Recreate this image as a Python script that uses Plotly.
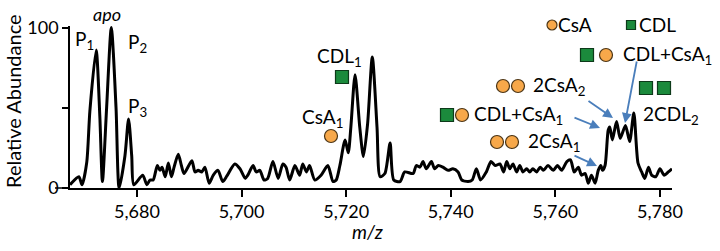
import plotly.graph_objects as go

# ---- data (m/z, relative abundance) ----
mz = [5667.2, 5668.9, 5669.5, 5670.4, 5671.0, 5672.2, 5672.9, 5673.4, 5674.2, 5675.1,
      5676.0, 5676.6, 5677.7, 5678.4, 5679.0, 5679.4,
      5681.1, 5681.9, 5682.5, 5683.1, 5683.9, 5684.4, 5684.8, 5685.4, 5686.0, 5686.6,
      5687.1, 5687.9, 5688.5, 5689.0, 5690.5, 5691.1, 5691.7, 5692.4, 5693.0, 5693.8,
      5694.6, 5695.5, 5696.4, 5697.2, 5698.7, 5699.7, 5700.7, 5701.2, 5702.2, 5702.8,
      5703.5, 5704.3, 5705.0, 5706.0, 5707.0, 5707.9, 5708.5, 5709.2, 5710.2, 5711.1,
      5711.7, 5712.4, 5713.0, 5714.0, 5715.2, 5716.5, 5717.5, 5718.1, 5718.8, 5719.8,
      5720.4, 5720.9, 5721.7, 5722.6, 5723.3, 5724.1, 5725.0, 5725.9, 5726.5, 5727.4,
      5728.4, 5729.1, 5730.3, 5731.2,
      5732.8, 5733.4, 5734.1, 5734.7, 5735.3, 5736.3, 5736.9, 5737.6, 5738.5, 5739.5,
      5740.4, 5741.4, 5742.1, 5743.3, 5744.1, 5744.9, 5745.7, 5746.8, 5747.7, 5748.5,
      5749.4, 5750.1, 5750.7, 5751.3, 5751.9, 5752.6, 5753.2, 5753.8, 5754.5, 5755.1,
      5755.7, 5756.4, 5757.1, 5757.7, 5758.6, 5759.6, 5760.4, 5761.2, 5762.2, 5762.9,
      5763.6, 5764.4, 5765.0, 5765.7, 5766.3, 5766.9, 5767.6, 5768.2, 5768.7, 5769.0,
      5769.5, 5770.1, 5770.4, 5770.9, 5771.7, 5772.4, 5773.4, 5774.2, 5775.0, 5775.8,
      5776.5, 5777.1, 5777.8, 5778.4, 5779.2, 5780.0, 5780.8, 5781.6, 5782.3]
abundance = [2, 7, 2, 16, 48, 86, 45, 4, 50, 100,
             50, 0, 20, 43, 20, 2,
             8, 2, 5, 5, 14, 11, 13, 7, 15.6, 7,
             13, 21, 14, 9, 17, 10, 11, 10, 13, 3,
             8, 11, 4, 7.5, 15, 12, 6, 8, 14, 10,
             11, 5, 6, 16.5, 6, 15, 13, 5, 14, 8,
             15, 10, 14, 5, 8, 14, 4, 5, 14, 30,
             22, 38, 70.6, 38, 19.6, 40, 81.7, 38, 7, 9,
             28, 5, 4, 10,
             9, 14, 13, 16.5, 12, 16.5, 12, 14, 13, 11,
             12, 10, 5, 4, 5, 12, 5, 10, 16.5, 14,
             15, 10, 16.5, 12, 15, 10, 14, 10, 12, 10,
             12, 10, 13, 11, 14, 11, 14, 11, 16.5, 17.5,
             10, 13, 8, 9, 3, 8, 3, 11, 14, 11,
             14, 36, 38, 30, 41.5, 31, 39, 29, 46.7, 15.6,
             10, 6, 13, 8, 7, 12, 8, 10, 12]

x_ticks = [5680, 5700, 5720, 5740, 5760, 5780]
x_ticktext = ["5,680", "5,700", "5,720", "5,740", "5,760", "5,780"]
y_ticks = [0, 50, 100]
y_ticktext = ["0", "", "100"]

# ---- layout geometry (pixels) ----
W, H = 720, 251
ML, MR, MT, MB = 70, 48, 26, 63
PW, PH = W - ML - MR, H - MT - MB
FONT = "Lato"
ORANGE = "#F7A84A"
GREEN = "#1B8A3C"
ARROW = "#4A7EBB"
LBL = 19


def px(x):
    return (x - ML) / PW


def py(y):
    return (H - MB - y) / PH


fig = go.Figure()
fig.add_trace(go.Scatter(x=mz, y=abundance, mode="lines",
                         line=dict(color="black", width=3, shape="spline", smoothing=0.7),
                         hoverinfo="skip", showlegend=False))

shapes = []
annotations = []


def circle(cx, cy, d=13):
    r = d / 2
    shapes.append(dict(type="circle", xref="paper", yref="paper",
                       x0=px(cx - r), x1=px(cx + r), y0=py(cy + r), y1=py(cy - r),
                       fillcolor=ORANGE, line=dict(color="#4a3415", width=1.2)))


def square(cx, cy, d=13):
    r = d / 2
    shapes.append(dict(type="rect", xref="paper", yref="paper",
                       x0=px(cx - r), x1=px(cx + r), y0=py(cy + r), y1=py(cy - r),
                       fillcolor=GREEN, line=dict(color="#0d3a1a", width=1.2)))


def label(text, cx, cy, size=LBL, italic=False, xanchor="center"):
    annotations.append(dict(text=text, xref="paper", yref="paper", x=px(cx), y=py(cy),
                            xanchor=xanchor, yanchor="middle", showarrow=False,
                            font=dict(family=FONT, size=size, color="black",
                                      style="italic" if italic else "normal")))


def arrow(x0, y0, x1, y1):
    annotations.append(dict(text="", xref="paper", yref="paper", x=px(x1), y=py(y1),
                            ax=x0 - x1, ay=y0 - y1, axref="pixel", ayref="pixel",
                            showarrow=True, arrowhead=2, arrowsize=1.1,
                            arrowwidth=1.8, arrowcolor=ARROW))


# x-axis line extends a little left of the y axis
shapes.append(dict(type="line", xref="paper", yref="paper", x0=px(55), x1=0, y0=0, y1=0,
                   line=dict(color="black", width=1.5)))

# peak labels
label("apo", 107, 14, 18, italic=True)
label("P<sub>1</sub>", 84, 40)
label("P<sub>2</sub>", 137, 43)
label("P<sub>3</sub>", 137, 107)
label("CDL<sub>1</sub>", 339, 57)
square(342, 77)
label("CsA<sub>1</sub>", 322, 118)
circle(331, 136)

# legend
circle(552, 25, 10)
label("CsA", 556, 25, xanchor="left")
square(631, 25, 9)
label("CDL", 637, 25, xanchor="left")

# adduct labels
square(587, 55)
circle(606, 55)
label("CDL+CsA<sub>1</sub>", 621, 55, xanchor="left")

square(646, 88)
square(664, 88)
label("2CDL<sub>2</sub>", 641, 115, xanchor="left")

circle(503, 86)
circle(518, 86)
label("2CsA<sub>2</sub>", 531, 86, xanchor="left")

square(447, 115)
circle(462, 115)
label("CDL+CsA<sub>1</sub>", 472, 115, xanchor="left")

circle(497, 142)
circle(512, 142)
label("2CsA<sub>1</sub>", 526, 142, xanchor="left")

arrow(587, 100, 613, 118)
arrow(573, 117, 600, 128)
arrow(573, 155, 597, 166)
arrow(637, 60, 625, 123)

# axis titles
annotations.append(dict(text="Relative Abundance", xref="paper", yref="paper",
                        x=px(13), y=py(101), textangle=-90, showarrow=False,
                        xanchor="center", yanchor="middle",
                        font=dict(family=FONT, size=20, color="black")))
annotations.append(dict(text="m/z", xref="paper", yref="paper",
                        x=px(367), y=py(231), showarrow=False,
                        xanchor="center", yanchor="middle",
                        font=dict(family=FONT, size=19, color="black", style="italic")))

fig.update_layout(
    width=W, height=H,
    margin=dict(l=ML, r=MR, t=MT, b=MB, pad=0),
    paper_bgcolor="white", plot_bgcolor="white",
    font=dict(family=FONT, size=18, color="black"),
    shapes=shapes, annotations=annotations,
    xaxis=dict(range=[5667.2, 5782.3], tickvals=x_ticks, ticktext=x_ticktext,
               showgrid=False, zeroline=False, showline=True, linecolor="black",
               linewidth=1.5, ticks="outside", ticklen=7, tickwidth=1.5, tickcolor="black",
               tickfont=dict(family=FONT, size=18)),
    yaxis=dict(range=[0, 101], tickvals=y_ticks, ticktext=y_ticktext,
               showgrid=False, zeroline=False, showline=True, linecolor="black",
               linewidth=1.5, ticks="outside", ticklen=6, tickwidth=1.5, tickcolor="black",
               tickfont=dict(family=FONT, size=18)),
)

fig.write_html("out.html")
